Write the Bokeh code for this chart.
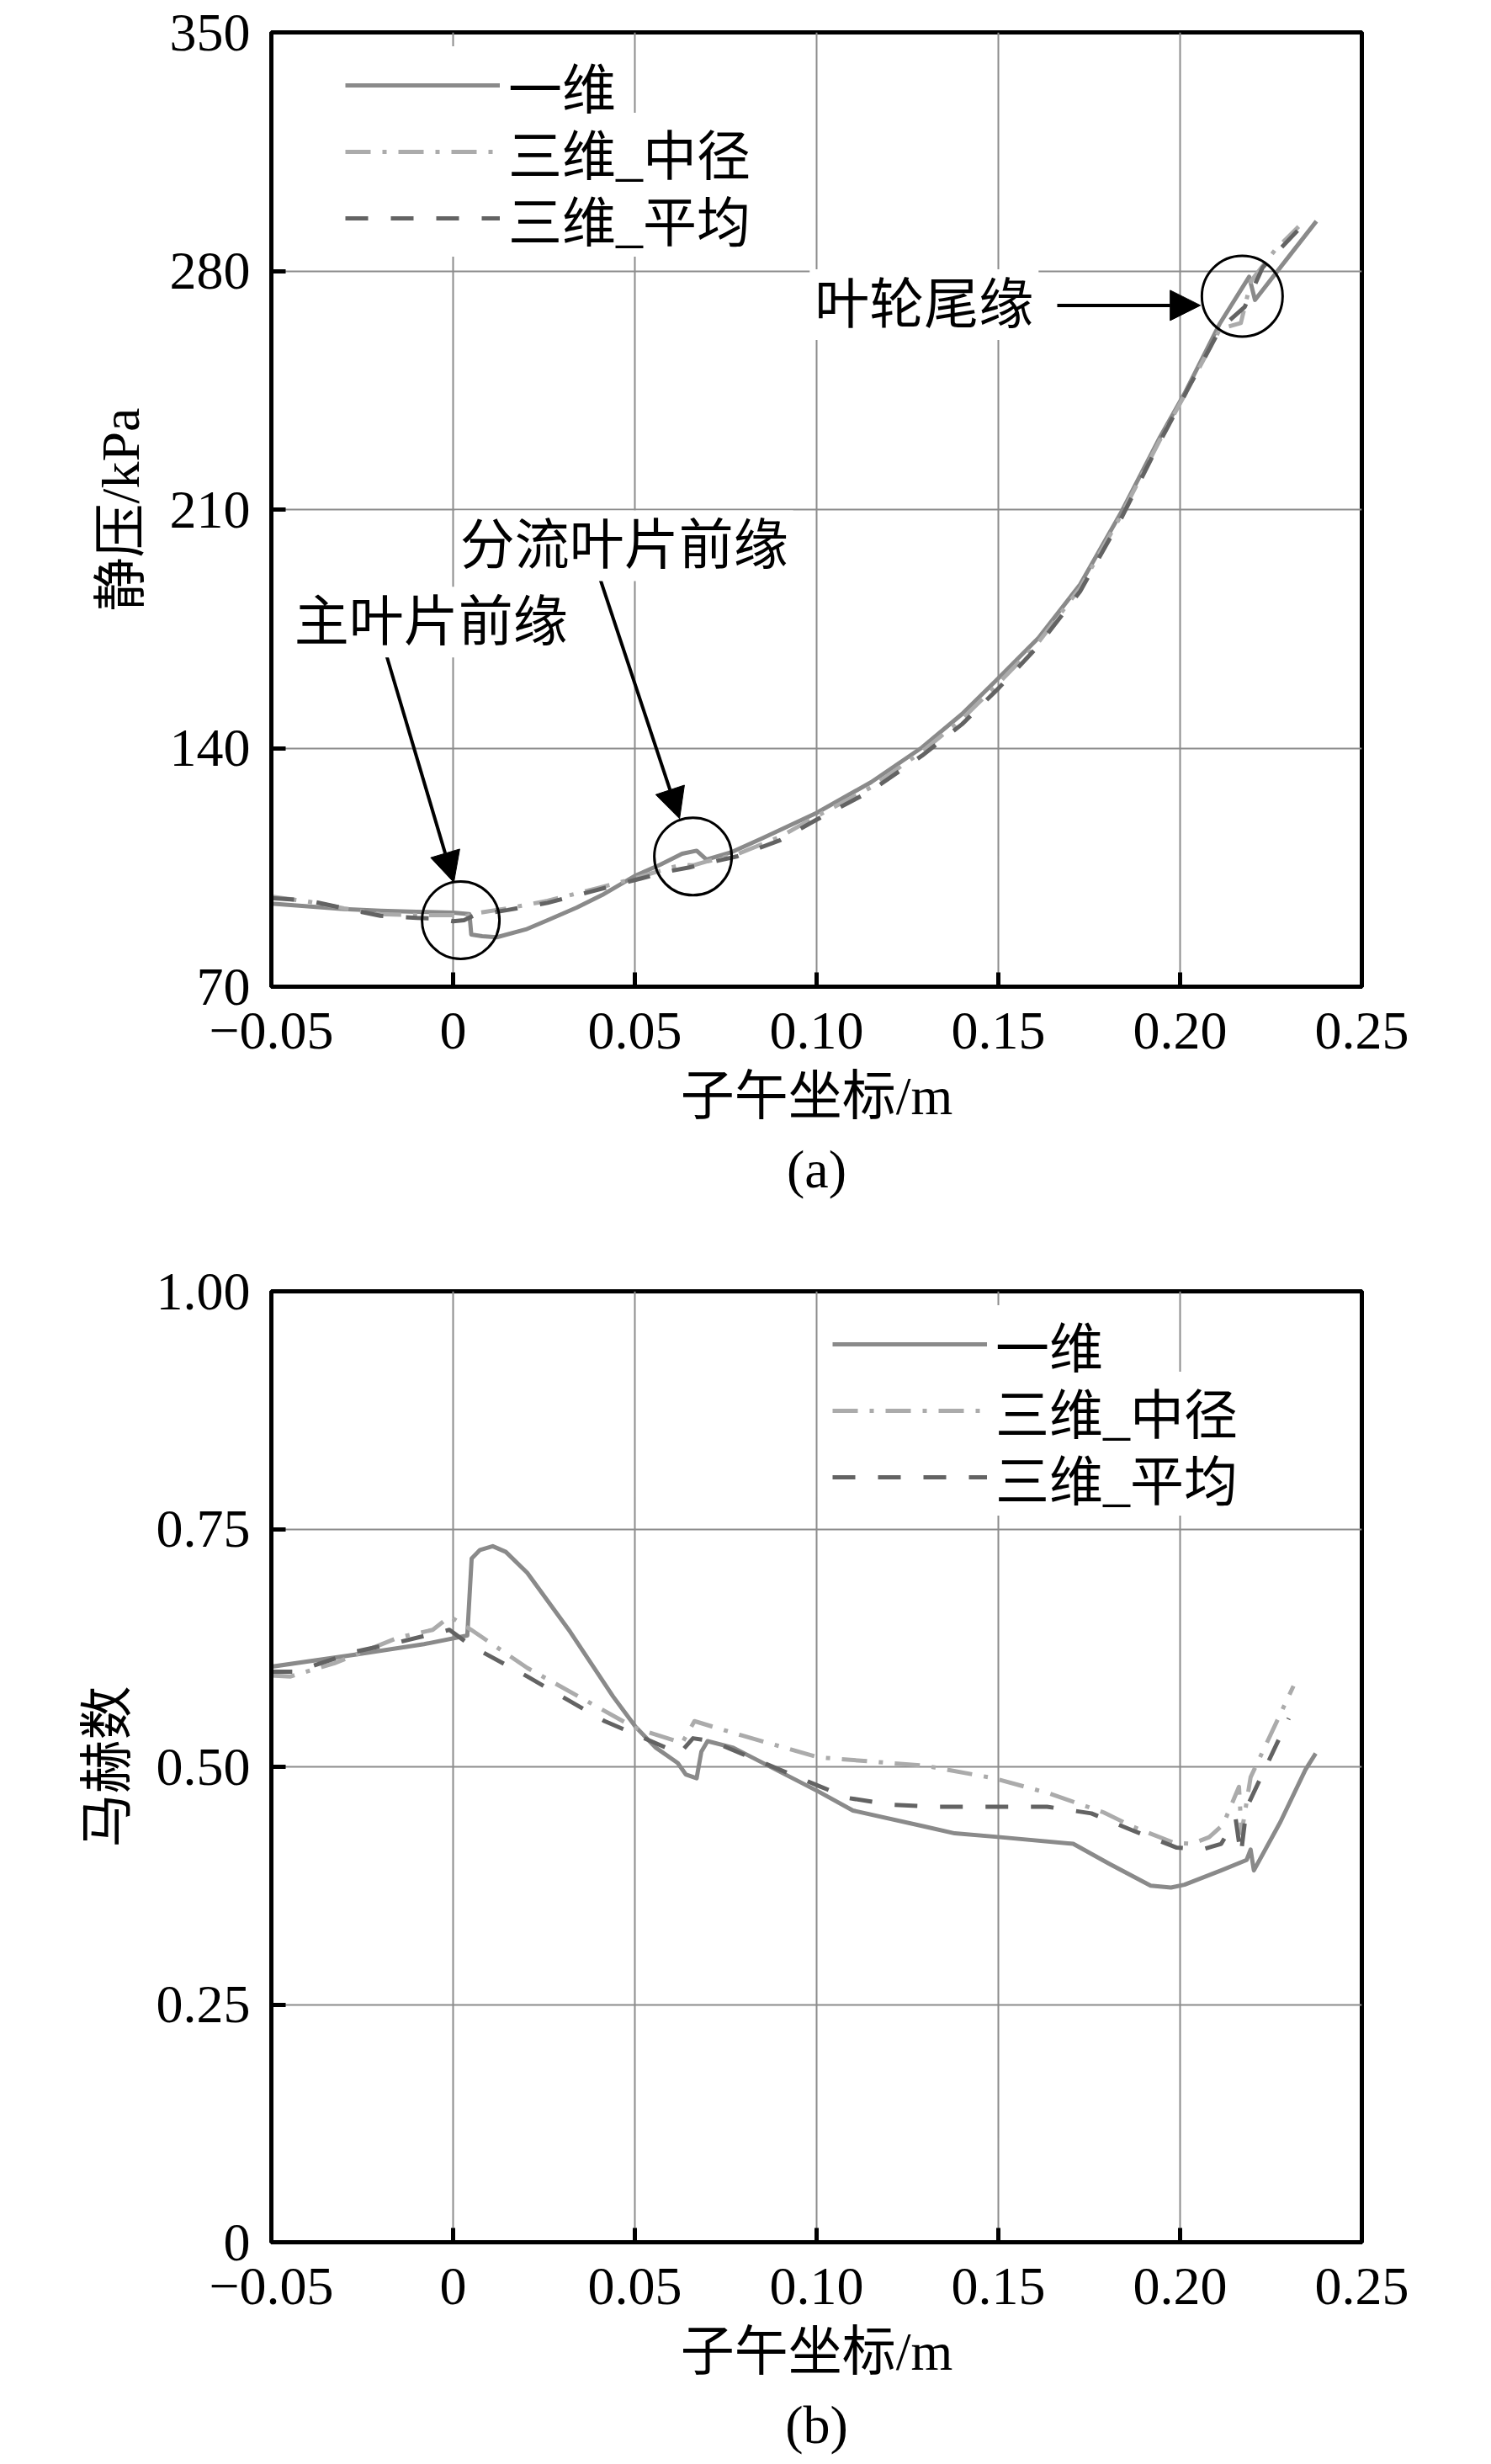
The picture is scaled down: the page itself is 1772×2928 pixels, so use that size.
from bokeh.plotting import figure
from bokeh.models import (FixedTicker, Legend, LegendItem, Label, Arrow,
                          NormalHead, Title, Range1d)
from bokeh.layouts import column
from bokeh.embed import file_html
from bokeh.resources import INLINE

# ---------------- ticks ----------------
x_ticks = [-0.05, 0.0, 0.05, 0.10, 0.15, 0.20, 0.25]
x_tick_labels = ["\u22120.05", "0", "0.05", "0.10", "0.15", "0.20", "0.25"]
pa_ticks = [70, 140, 210, 280, 350]
pa_tick_labels = ["70", "140", "210", "280", "350"]
ma_ticks = [0.0, 0.25, 0.50, 0.75, 1.00]
ma_tick_labels = ["0", "0.25", "0.50", "0.75", "1.00"]

series_names = ["一维", "三维_中径", "三维_平均"]

# ---------------- data: panel (a) static pressure (kPa) ----------------
a_1d_x = [-0.05, -0.04, -0.03, -0.02, -0.01, 0.0, 0.0045, 0.0050, 0.008, 0.012,
          0.020, 0.026, 0.034, 0.041, 0.050, 0.057, 0.063, 0.067, 0.0697, 0.0764,
          0.085, 0.100, 0.115, 0.129, 0.140, 0.150, 0.161, 0.1725, 0.1836, 0.1945,
          0.2012, 0.211, 0.219, 0.2206, 0.229, 0.2375]
a_1d_y = [94.4, 93.6, 92.8, 92.3, 92.0, 91.7, 91.3, 85.3, 84.8, 84.5,
          86.8, 89.5, 93.2, 96.9, 102.5, 105.8, 109.0, 109.9, 107.3, 109.4,
          113.5, 121.0, 130.0, 140.2, 150.0, 160.5, 172.3, 188.0, 208.8, 231.3,
          244.0, 264.7, 278.3, 271.5, 283.0, 294.6]

a_mid_x = [-0.05, -0.04, -0.03, -0.02, -0.01, 0.0, 0.003, 0.006, 0.015, 0.026,
           0.040, 0.050, 0.060, 0.063, 0.066, 0.070, 0.078, 0.090, 0.100, 0.115,
           0.129, 0.140, 0.150, 0.161, 0.1725, 0.1836, 0.1945, 0.2012, 0.211, 0.2167,
           0.2195, 0.226, 0.2326]
a_mid_y = [96.4, 95.0, 93.0, 91.3, 91.0, 91.0, 90.5, 91.5, 93.0, 95.2,
           99.0, 101.8, 105.0, 105.8, 105.6, 106.8, 108.8, 114.0, 120.0, 128.5,
           139.0, 148.5, 159.0, 171.0, 187.0, 208.0, 230.5, 243.5, 263.0, 264.7,
           277.0, 286.0, 293.0]

a_avg_x = [-0.05, -0.04, -0.03, -0.02, -0.01, -0.004, 0.0, 0.003, 0.006, 0.015,
           0.026, 0.040, 0.050, 0.060, 0.065, 0.070, 0.078, 0.090, 0.100, 0.115,
           0.129, 0.140, 0.150, 0.161, 0.1725, 0.1836, 0.1945, 0.2012, 0.211, 0.2178,
           0.2227, 0.228, 0.2338]
a_avg_y = [96.0, 95.3, 93.0, 90.8, 90.2, 90.0, 89.2, 89.5, 91.0, 92.5,
           94.6, 98.5, 101.3, 104.0, 105.0, 106.3, 108.2, 113.0, 119.0, 127.5,
           137.8, 147.0, 157.5, 170.0, 186.0, 207.0, 230.0, 243.5, 263.0, 269.5,
           281.0, 287.0, 293.5]

# ---------------- data: panel (b) Mach number ----------------
b_1d_x = [-0.0505, -0.027, -0.008, 0.0039, 0.0051, 0.0074, 0.0109, 0.0145, 0.0204, 0.0322,
          0.044, 0.0502, 0.0558, 0.0618, 0.064, 0.067, 0.0683, 0.070, 0.0771, 0.1005,
          0.110, 0.130, 0.138, 0.1505, 0.1706, 0.1805, 0.1919, 0.1975, 0.2012, 0.2113,
          0.2183, 0.2194, 0.2203, 0.2276, 0.2345, 0.2373]
b_1d_y = [0.605, 0.618, 0.629, 0.638, 0.719, 0.728, 0.732, 0.726, 0.704, 0.642,
          0.574, 0.542, 0.520, 0.504, 0.492, 0.488, 0.516, 0.527, 0.520, 0.474,
          0.454, 0.437, 0.430, 0.426, 0.419, 0.398, 0.375, 0.373, 0.376, 0.391,
          0.402, 0.413, 0.391, 0.442, 0.497, 0.514]

b_mid_x = [-0.0505, -0.0447, -0.0326, -0.015, -0.0056, -0.0009, 0.005, 0.0204, 0.050, 0.063,
           0.0664, 0.0794, 0.1005, 0.130, 0.1488, 0.164, 0.179, 0.187, 0.1984, 0.2032,
           0.208, 0.2118, 0.2162, 0.2169, 0.2194, 0.2312]
b_mid_y = [0.596, 0.595, 0.609, 0.636, 0.644, 0.658, 0.644, 0.604, 0.541, 0.525,
           0.548, 0.533, 0.510, 0.501, 0.488, 0.472, 0.452, 0.437, 0.420, 0.419,
           0.426, 0.439, 0.479, 0.430, 0.489, 0.585]

b_avg_x = [-0.0505, -0.0433, -0.027, -0.015, -0.001, 0.005, 0.0204, 0.0417, 0.0502, 0.0623,
           0.066, 0.0711, 0.1005, 0.109, 0.121, 0.1317, 0.1634, 0.1756, 0.187, 0.1991,
           0.206, 0.2113, 0.2153, 0.2167, 0.2183, 0.2299]
b_avg_y = [0.600, 0.600, 0.621, 0.631, 0.644, 0.627, 0.595, 0.548, 0.534, 0.514,
           0.530, 0.527, 0.480, 0.467, 0.460, 0.458, 0.458, 0.451, 0.433, 0.415,
           0.413, 0.419, 0.445, 0.407, 0.457, 0.551]

# annotation circles in panel (a)
circle_x = [0.0021, 0.066, 0.2171]
circle_y = [89.5, 108.2, 272.6]

FONT = "'Liberation Serif', 'Noto Sans CJK SC'"
FS = "64px"
GRID = "#8c8c8c"
STYLES = [dict(color="#8a8a8a", dash="solid"),
          dict(color="#ababab", dash="30 14 5 14"),
          dict(color="#636363", dash="27 27")]


def make_fig(height, y_range, yticks, ylabels, ylabel, caption, mb_top, mb_bottom):
    p = figure(width=1772, height=height, output_backend="svg", toolbar_location=None,
               x_range=Range1d(-0.05, 0.25), y_range=Range1d(*y_range),
               min_border_left=322, min_border_right=154,
               min_border_top=mb_top, min_border_bottom=mb_bottom,
               background_fill_color="white", border_fill_color="white")
    p.xaxis.ticker = FixedTicker(ticks=x_ticks)
    p.xaxis.major_label_overrides = {t: s for t, s in zip(x_ticks, x_tick_labels)}
    p.yaxis.ticker = FixedTicker(ticks=yticks)
    p.yaxis.major_label_overrides = {t: s for t, s in zip(yticks, ylabels)}
    for ax in (p.xaxis[0], p.yaxis[0]):
        ax.axis_line_width = 5
        ax.axis_line_color = "black"
        ax.major_tick_in = 17
        ax.major_tick_out = 0
        ax.major_tick_line_width = 5
        ax.major_tick_line_color = "black"
        ax.minor_tick_line_color = None
        ax.major_label_text_font = FONT
        ax.major_label_text_font_size = FS
        ax.major_label_text_color = "black"
        ax.axis_label_text_font = FONT
        ax.axis_label_text_font_size = FS
        ax.axis_label_text_font_style = "normal"
        ax.axis_label_text_color = "black"
    p.xaxis.major_label_standoff = 31
    p.yaxis.major_label_standoff = 25
    p.xaxis.axis_label = "子午坐标/m"
    p.xaxis.axis_label_standoff = 18
    p.yaxis.axis_label = ylabel
    p.yaxis.axis_label_standoff = 20
    p.grid.grid_line_color = GRID
    p.grid.grid_line_width = 2
    p.outline_line_color = "black"
    p.outline_line_width = 5
    p.outline_line_alpha = 1
    p.add_layout(Title(text=caption, align="center", text_font=FONT, text_font_size=FS,
                       text_font_style="normal", text_color="black", standoff=23), "below")
    return p


def add_series(p, xs, ys, legend_x, row_y):
    rends = []
    for x, y, st in zip(xs, ys, STYLES):
        r = p.line(x, y, line_color=st["color"], line_width=5, line_dash=st["dash"],
                   line_join="round")
        rends.append(r)
    # one single-item legend per row (exact row pitch); bottom row drawn first
    rows = list(zip(series_names, rends, row_y))
    for name, r, ry in reversed(rows):
        leg = Legend(items=[LegendItem(label=name, renderers=[r])],
                     location=(legend_x, ry), glyph_width=184, glyph_height=60,
                     label_standoff=10, spacing=0, padding=0, margin=0,
                     border_line_color=None, background_fill_color="white",
                     background_fill_alpha=1.0, label_text_font=FONT,
                     label_text_font_size=FS, label_text_color="black")
        p.add_layout(leg)
    return rends


def arrow(p, xs, ys, xe, ye):
    p.add_layout(Arrow(end=NormalHead(size=36, fill_color="black", line_color="black",
                                      line_width=1),
                       x_start=xs, y_start=ys, x_end=xe, y_end=ye,
                       line_color="black", line_width=4))


def note(p, x, y, txt):
    p.add_layout(Label(x=x, y=y, text=txt, text_font=FONT, text_font_size="65px",
                       text_color="black", text_align="left", text_baseline="middle",
                       background_fill_color="white", background_fill_alpha=1.0,
                       padding=6))


# ---------------- panel (a) ----------------
pa = make_fig(1480, (70, 350), pa_ticks, pa_tick_labels, "静压/kPa", "(a)", 38, 308)
add_series(pa, [a_1d_x, a_mid_x, a_avg_x], [a_1d_y, a_mid_y, a_avg_y], 88,
           [1025, 946, 867])

pa.scatter(circle_x[:2], circle_y[:2], size=92, marker="circle", fill_color=None,
           line_color="black", line_width=3)
pa.scatter(circle_x[2:], circle_y[2:], size=96, marker="circle", fill_color=None,
           line_color="black", line_width=3)

arrow(pa, -0.0183, 167.1, 0.0002, 100.6)
arrow(pa, 0.0405, 189.5, 0.0623, 119.3)
arrow(pa, 0.1662, 269.9, 0.2056, 269.9)

note(pa, 0.0005, 199.4, "分流叶片前缘")
note(pa, -0.0451, 177.0, "主叶片前缘")
note(pa, 0.0981, 270.1, "叶轮尾缘")

# ---------------- panel (b) ----------------
pb = make_fig(1448, (0, 1), ma_ticks, ma_tick_labels, "马赫数", "(b)", 54, 260)
add_series(pb, [b_1d_x, b_mid_x, b_avg_x], [b_1d_y, b_mid_y, b_avg_y], 667,
           [1021, 942, 863])

layout = column(pa, pb, spacing=0)
open("out.html", "w").write(file_html(layout, INLINE))
